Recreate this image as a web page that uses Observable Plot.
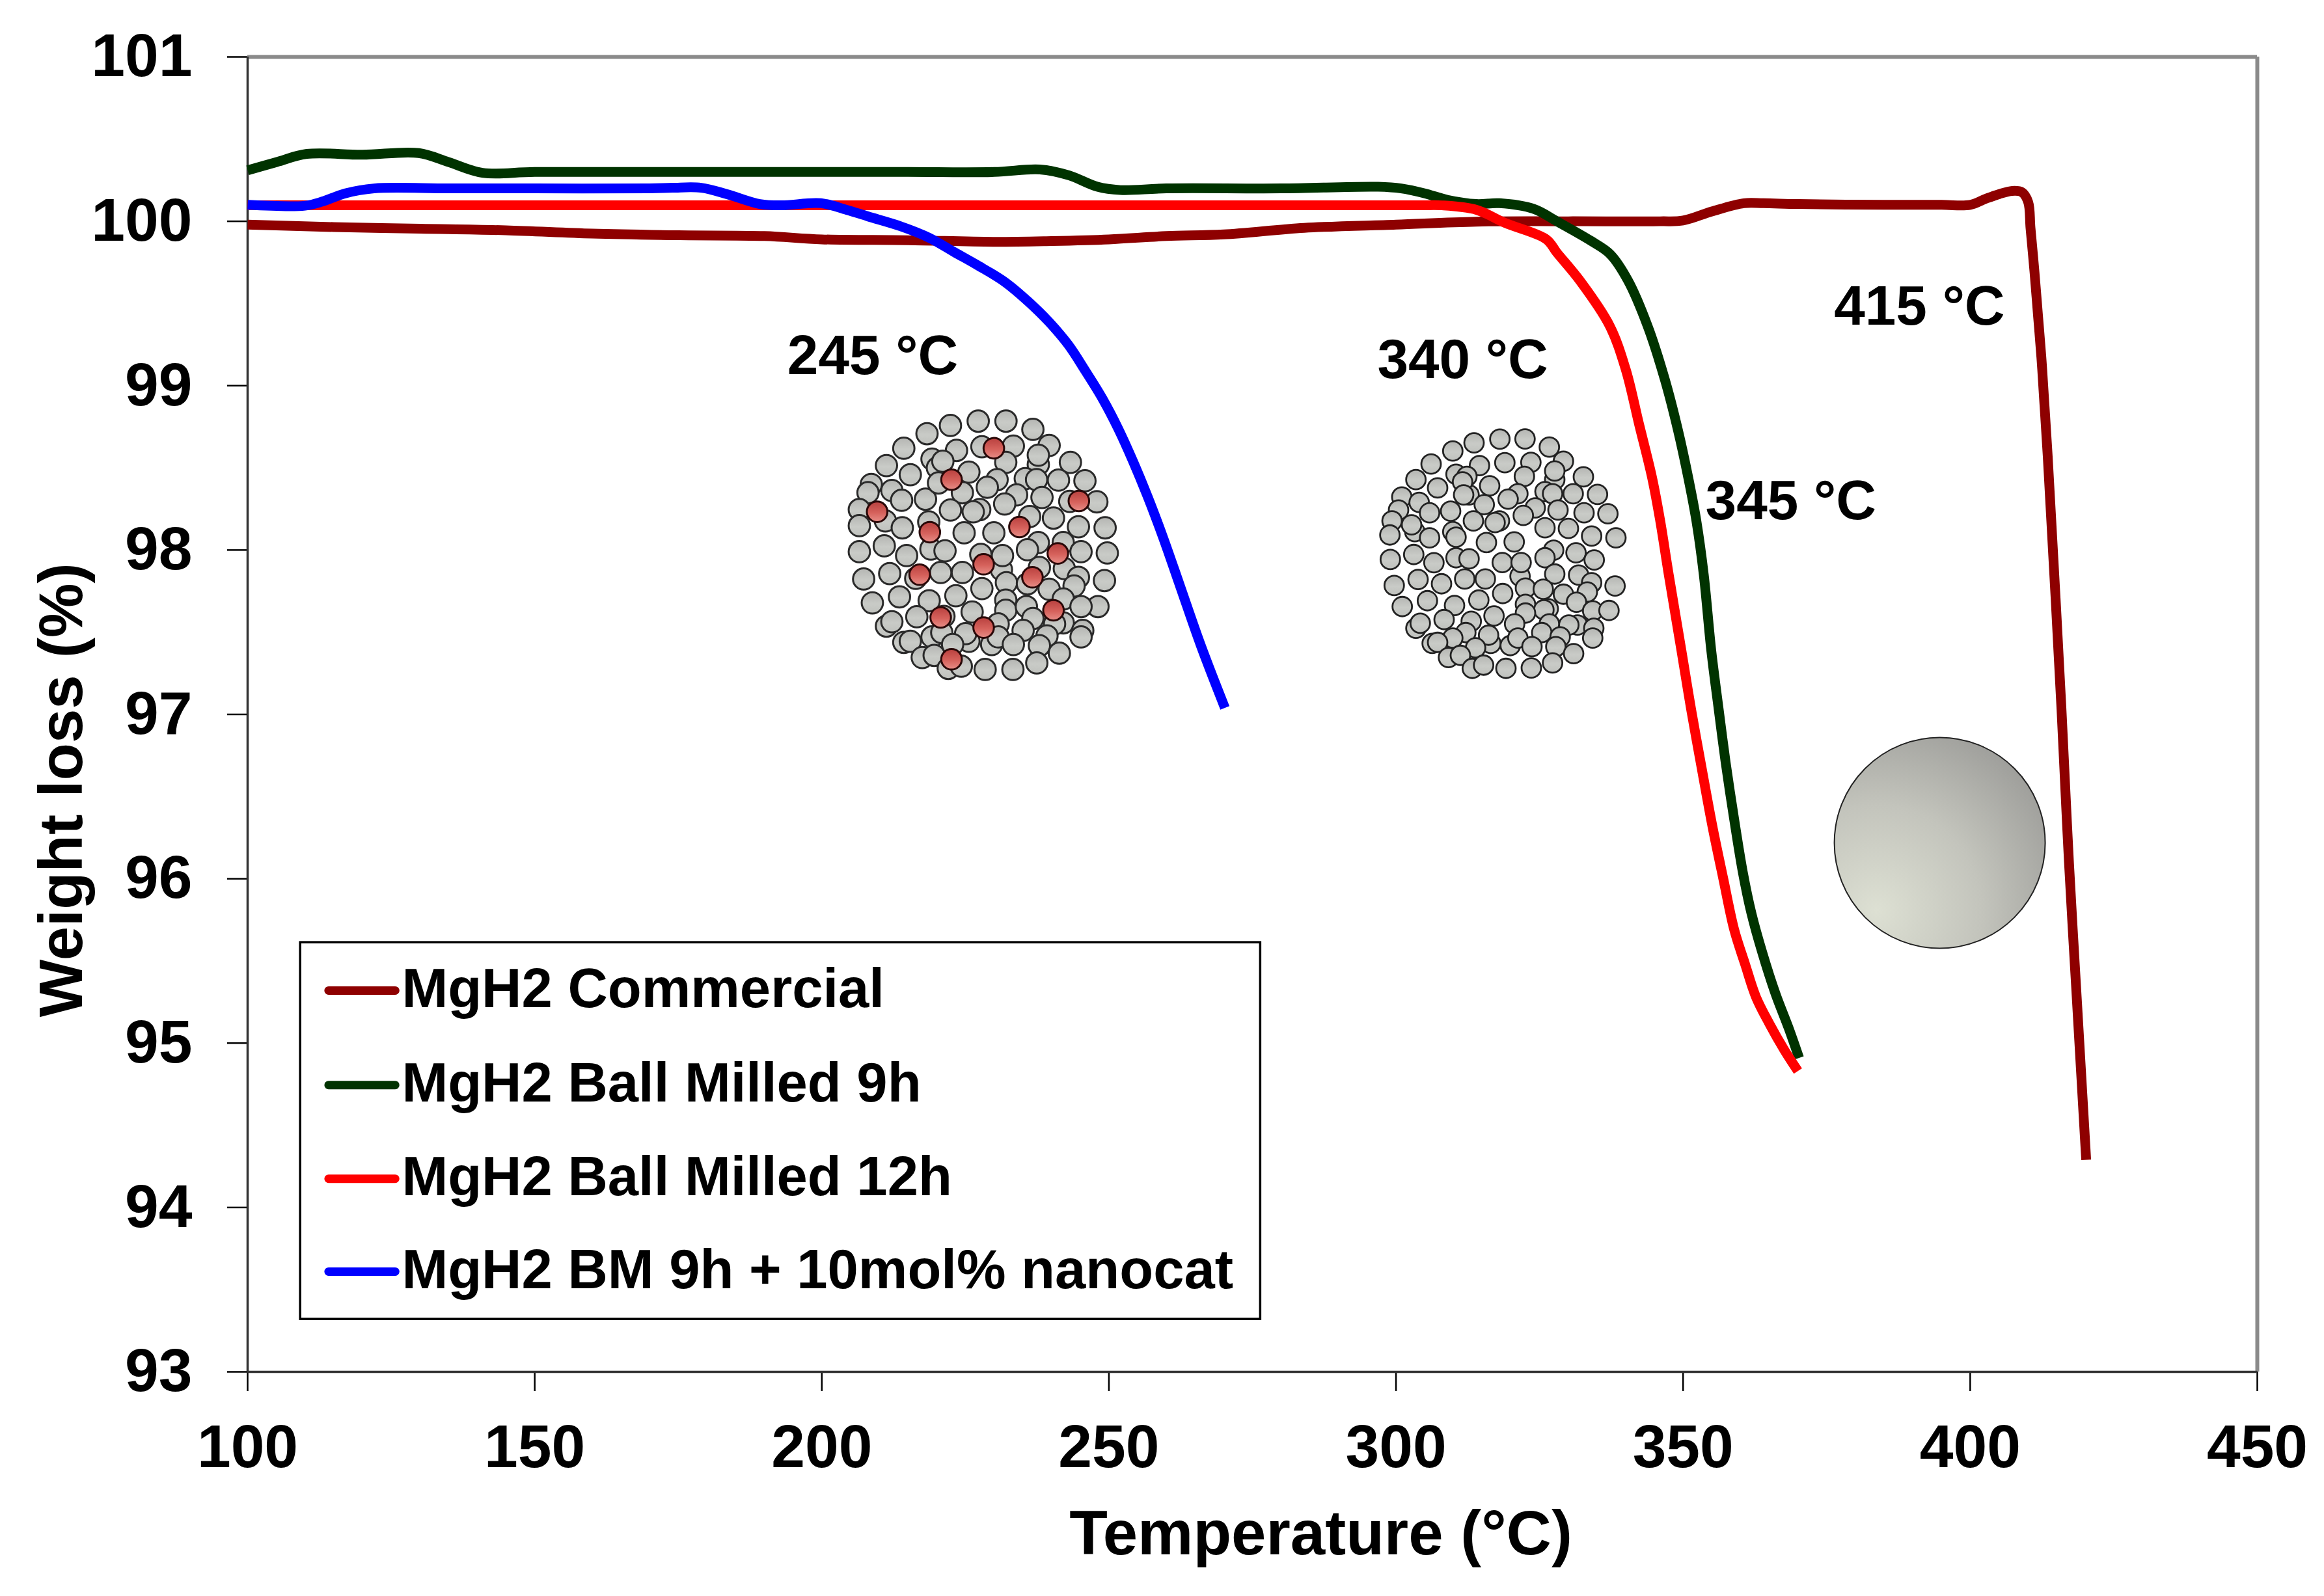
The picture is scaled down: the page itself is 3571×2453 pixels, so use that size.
<!DOCTYPE html>
<html>
<head>
<meta charset="utf-8">
<style>html,body{margin:0;padding:0;background:#fff}svg{display:block}</style>
<script src="https://cdn.jsdelivr.net/npm/d3@7"></script>
<script src="https://cdn.jsdelivr.net/npm/@observablehq/plot@0.6"></script>
</head>
<body>
<div id="chart"></div>
<script>
const xTicks = [100,150,200,250,300,350,400,450];
const yTicks = [93,94,95,96,97,98,99,100,101];
const seriesNames = ["MgH2 Commercial","MgH2 Ball Milled 9h","MgH2 Ball Milled 12h","MgH2 BM 9h + 10mol% nanocat"];
const seriesColors = ["#8e0000","#003300","#ff0000","#0000ff"];

const commercialT = [100,115,130,145,160,175,190,200,215,230,240,250,260,270,284,300,314,330,346,350,355,360.6,364,370,385,395,400,402.7,405,407.3,409,410.1,410.5,411.2,411.8,412.4,412.9,413.5,415.9,417.2,418.6,420.2];
const commercialW = [99.98,99.965,99.955,99.945,99.925,99.915,99.91,99.89,99.885,99.875,99.88,99.89,99.91,99.92,99.96,99.98,99.998,100,100,100.005,100.06,100.11,100.11,100.105,100.1,100.1,100.1,100.137,100.165,100.185,100.177,100.117,99.96,99.69,99.43,99.17,98.9,98.57,97.03,96.1,95.25,94.29];

const milled9T = [100,105,110.3,120,129.8,135,140.9,150,175,200,215,230,238,243,248,252,260,280,296.9,300.9,305,309,314,318,324,328,334,337.3,340.4,343.8,346.8,349.1,350.9,352.3,353.6,354.9,356.2,357.4,358.9,360.4,361.9,363.8,366.1,368.4,370.2];
const milled9W = [100.31,100.36,100.41,100.405,100.415,100.36,100.295,100.3,100.3,100.3,100.3,100.3,100.315,100.28,100.21,100.19,100.2,100.2,100.21,100.2,100.17,100.13,100.105,100.11,100.075,100,99.88,99.8,99.64,99.365,99.04,98.73,98.44,98.18,97.85,97.39,97.03,96.71,96.36,96.04,95.79,95.55,95.3,95.09,94.91];

const milled12T = [100,125,150,175,200,225,250,275,295,304,308,314,319,326.2,328,332,337.2,340,342.3,344.6,346,347.5,349.7,351.4,353.2,355.1,357,358.9,360.8,362.7,365,367.6,370];
const milled12W = [100.097,100.097,100.097,100.097,100.097,100.097,100.097,100.097,100.097,100.097,100.097,100.07,99.99,99.89,99.81,99.64,99.365,99.1,98.77,98.44,98.18,97.85,97.39,97.03,96.68,96.32,96,95.69,95.48,95.28,95.12,94.96,94.83];

const nanocatT = [100,110,113,117,122,135,150,170,174,179,183.5,189.2,193,199.8,204.3,208,213.7,218.7,223.2,227,231.9,236,239.5,242.9,245.9,248.9,251.6,254.2,256.8,259.5,262.4,266,270.2];
const nanocatW = [100.1,100.095,100.12,100.17,100.2,100.2,100.2,100.2,100.204,100.204,100.165,100.105,100.097,100.11,100.07,100.03,99.97,99.9,99.81,99.735,99.63,99.51,99.39,99.25,99.09,98.92,98.74,98.54,98.32,98.07,97.78,97.42,97.04];

const onsetLabels = ["245 °C","340 °C","345 °C","415 °C"];
const onsetT = [194,296.75,353.9,376.3];
const onsetW = [99.18,99.153,98.294,99.478];

// legend placement, in axis units
const legendBoxT = [109.2,276.4];
const legendBoxW = [93.32,95.612];
const legendSwatchT = [114.1,125.7];
const legendRowW = [95.32,94.745,94.175,93.61];
const legendTextT = 126.85;

// particle sketches: positions, in sketch units of 1/3 px
const catParticlesGrey = [[522,198],[630,160],[758,140],[886,140],[1010,178],[1085,252],[415,265],[658,275],[545,315],[775,258],[920,255],[1035,340],[1035,297],[1183,330],[335,345],[445,387],[570,355],[595,325],[885,330],[715,375],[265,432],[250,470],[360,460],[515,500],[405,505],[575,425],[685,470],[845,410],[800,445],[975,405],[1027,410],[1128,412],[1250,415],[935,480],[880,522],[1052,492],[1180,510],[1305,512],[210,548],[330,600],[630,550],[765,548],[735,558],[995,580],[1105,587],[1220,627],[1343,632],[210,622],[408,632],[530,605],[693,655],[830,655],[325,715],[210,742],[428,760],[540,730],[605,738],[770,755],[865,825],[870,760],[1035,700],[985,733],[1150,700],[1232,742],[1353,748],[1155,820],[1040,815],[230,868],[350,843],[470,865],[585,838],[685,838],[1220,860],[1200,900],[888,885],[775,912],[1340,875],[985,890],[1085,915],[395,950],[270,978],[532,968],[655,945],[885,965],[885,1012],[980,995],[1150,960],[1310,995],[1232,995],[730,1020],[475,1042],[335,1085],[360,1065],[600,1040],[850,1075],[1010,1050],[1150,1070],[1110,1075],[1240,1105],[1232,1135],[965,1105],[545,1135],[590,1115],[715,1155],[700,1120],[820,1170],[850,1135],[415,1160],[445,1155],[920,1170],[1075,1130],[1040,1175],[1132,1210],[500,1230],[555,1220],[640,1170],[620,1280],[680,1270],[790,1285],[918,1285],[1028,1255]];
const catParticlesRed = [[830,265],[635,410],[1222,508],[292,558],[948,628],[535,652],[1125,750],[783,800],[1008,860],[488,848],[1105,1012],[585,1045],[783,1092],[635,1238]];
const milledParticles = [[553,180],[455,218],[672,163],[788,162],[900,200],[965,265],[355,278],[578,285],[695,272],[815,270],[470,325],[520,335],[785,335],[925,350],[925,310],[1057,337],[285,350],[385,388],[625,378],[530,420],[500,360],[220,430],[505,420],[755,415],[710,440],[880,405],[915,415],[1010,415],[1122,418],[205,490],[300,455],[600,465],[445,495],[348,503],[835,480],[940,490],[1060,503],[1170,507],[780,515],[175,540],[550,540],[670,540],[650,548],[280,590],[265,558],[880,572],[988,575],[165,605],[455,590],[470,615],[348,618],[610,640],[738,637],[1095,610],[1207,618],[275,695],[167,718],[368,733],[470,710],[530,715],[683,732],[765,795],[770,732],[920,675],[880,710],[1023,687],[1107,720],[925,785],[1035,790],[185,838],[295,810],[403,830],[510,808],[605,808],[790,850],[872,855],[1095,825],[1075,868],[1203,840],[685,875],[965,878],[1025,915],[575,905],[338,908],[222,935],[463,930],[790,925],[895,945],[875,950],[790,965],[1100,955],[1175,953],[645,978],[1030,1020],[990,1020],[415,995],[285,1035],[305,1012],[540,1003],[740,1015],[900,1015],[865,1055],[1105,1035],[1100,1080],[630,1105],[620,1067],[515,1055],[455,1080],[720,1115],[755,1080],[950,1075],[360,1105],[385,1100],[560,1125],[820,1120],[930,1120],[1012,1152],[435,1170],[490,1160],[545,1220],[597,1205],[700,1220],[817,1218],[915,1195]];
const solidParticleT = [394.7];
const solidParticleW = [96.218];

// where each sketch's top-left corner falls, in axis units
const catSketchOrigin = [198.6,98.969];
const milledSketchOrigin = [292.7,98.89];
const unitsPerSketchT = 1/(3*8.823);
const unitsPerSketchW = 1/(3*252.6);
const place = (origin) => ([a,b]) => ({t: origin[0]+a*unitsPerSketchT, w: origin[1]-b*unitsPerSketchW});
const catGrey = catParticlesGrey.map(place(catSketchOrigin));
const catRed = catParticlesRed.map(place(catSketchOrigin));
const milled = milledParticles.map(place(milledSketchOrigin));

const toRows = (T,W) => T.map((t,i)=>({t,w:W[i]}));
const series = [[commercialT,commercialW],[milled9T,milled9W],[milled12T,milled12W],[nanocatT,nanocatW]].map(([T,W])=>toRows(T,W));

const FONT = "'Liberation Sans', Arial, sans-serif";
const defs = () => {
  const ns = "http://www.w3.org/2000/svg";
  const d = document.createElementNS(ns,"defs");
  d.innerHTML = `
  <linearGradient id="pGrey" x1="0" y1="0" x2="0" y2="1">
    <stop offset="0" stop-color="#b4b5b2"/><stop offset=".55" stop-color="#c9cbc7"/><stop offset="1" stop-color="#bfc1bd"/>
  </linearGradient>
  <linearGradient id="pRed" x1="0" y1="0" x2="0" y2="1">
    <stop offset="0" stop-color="#b8403e"/><stop offset=".55" stop-color="#d6625c"/><stop offset="1" stop-color="#e88e88"/>
  </linearGradient>
  <radialGradient id="pSolid" cx=".2" cy=".82" r="1">
    <stop offset="0" stop-color="#dde0d3"/><stop offset=".5" stop-color="#c3c4bc"/><stop offset="1" stop-color="#9a9a97"/>
  </radialGradient>`;
  return d;
};

const chart = Plot.plot({
  width: 3571, height: 2453,
  marginLeft: 380, marginRight: 103, marginTop: 87, marginBottom: 345,
  style: {fontFamily: FONT, background: "#fff", overflow: "visible", color:"#000"},
  x: {domain: [100,450], label: null},
  y: {domain: [93,101], label: null},
  marks: [
    defs,
    Plot.ruleY([101],{stroke:"#8a8a8a",strokeWidth:6}),
    Plot.ruleX([450],{stroke:"#8a8a8a",strokeWidth:6}),
    Plot.axisX({ticks:xTicks,tickSize:30,tickPadding:50,fontSize:93,fontWeight:700,strokeWidth:2.5,stroke:"#000",tickFormat:d=>String(d),label:null}),
    Plot.axisY({ticks:yTicks,tickSize:31,tickPadding:54,fontSize:93,fontWeight:700,strokeWidth:2.5,stroke:"#000",tickFormat:d=>String(d),label:null}),
    Plot.ruleX([100],{stroke:"#333",strokeWidth:3.5}),
    Plot.ruleY([93],{stroke:"#333",strokeWidth:3.5}),

    Plot.dot(milled,{x:"t",y:"w",r:15,fill:"url(#pGrey)",stroke:"#222",strokeWidth:2.8}),
    Plot.dot(catGrey,{x:"t",y:"w",r:16.4,fill:"url(#pGrey)",stroke:"#2a2a2a",strokeWidth:3}),
    Plot.dot(catRed,{x:"t",y:"w",r:15.8,fill:"url(#pRed)",stroke:"#2a0808",strokeWidth:3}),
    Plot.dot(toRows(solidParticleT,solidParticleW),{x:"t",y:"w",r:162,fill:"url(#pSolid)",stroke:"#222",strokeWidth:2}),

    ...series.map((rows,i)=>Plot.line(rows,{x:"t",y:"w",stroke:seriesColors[i],strokeWidth:15,curve:"catmull-rom",strokeLinecap:"butt"})),

    Plot.text(onsetLabels,{x:(d,i)=>onsetT[i],y:(d,i)=>onsetW[i],text:d=>d,textAnchor:"start",fontSize:85.5,fontWeight:700,fill:"#000"}),

    Plot.rect([0],{x1:()=>legendBoxT[0],x2:()=>legendBoxT[1],y1:()=>legendBoxW[0],y2:()=>legendBoxW[1],fill:"#fff",stroke:"#000",strokeWidth:3.5}),
    ...seriesNames.map((name,i)=>Plot.line(legendSwatchT.map(t=>({t,w:legendRowW[i]})),{x:"t",y:"w",stroke:seriesColors[i],strokeWidth:13,strokeLinecap:"round"})),
    Plot.text(seriesNames,{x:()=>legendTextT,y:(d,i)=>legendRowW[i],dy:-2,text:d=>d,textAnchor:"start",fontSize:85,fontWeight:700,fill:"#000"}),

    Plot.text(["Temperature (°C)"],{x:()=>286.9,y:()=>92.012,text:d=>d,fontSize:96,fontWeight:700,fill:"#000"}),
    Plot.text(["Weight loss (%)"],{x:()=>67.7,y:()=>96.54,text:d=>d,rotate:-90,fontSize:94,fontWeight:700,fill:"#000"})
  ]
});
document.getElementById("chart").appendChild(chart);
</script>
</body>
</html>
